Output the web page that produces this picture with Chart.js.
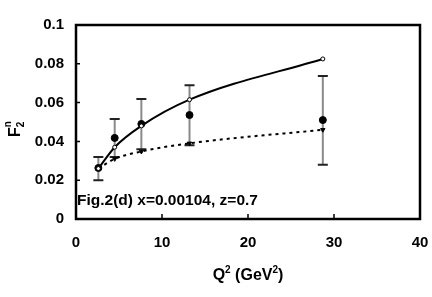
<!DOCTYPE html>
<html><head><meta charset="utf-8">
<script src="https://cdn.jsdelivr.net/npm/chart.js@4.4.0/dist/chart.umd.min.js"></script>
<style>html,body{margin:0;padding:0;background:#fff}#wrap{width:432px;height:297px}</style>
</head><body><div id="wrap"><canvas id="c" width="432" height="297"></canvas></div>
<script>
const q2 = [2.6, 4.5, 7.6, 13.2, 28.7];
const dataF2 = [0.0263, 0.0418, 0.049, 0.0536, 0.051];
const errHi = [0.032, 0.0515, 0.0618, 0.069, 0.0737];
const errLo = [0.020, 0.032, 0.036, 0.038, 0.028];
const theorySolid = [0.026, 0.037, 0.048, 0.0615, 0.0825];
const theoryDashed = [0.026, 0.031, 0.0348, 0.039, 0.046];
const xTicks = [0, 10, 20, 30, 40];
const yTicks = [0, 0.02, 0.04, 0.06, 0.08, 0.1];
const annotation = 'Fig.2(d) x=0.00104, z=0.7';

const FONT = '"Liberation Sans", Arial, sans-serif';

const overlay = {
  id: 'overlay',
  beforeDatasetsDraw(chart) {
    const {ctx, scales: {x, y}} = chart;
    ctx.save();
    for (let i = 0; i < q2.length; i++) {
      const px = x.getPixelForValue(q2[i]);
      const pt = y.getPixelForValue(errHi[i]);
      const pb = y.getPixelForValue(errLo[i]);
      ctx.strokeStyle = '#8a8a8a'; ctx.lineWidth = 2;
      ctx.beginPath(); ctx.moveTo(px, pt); ctx.lineTo(px, pb); ctx.stroke();
      ctx.strokeStyle = '#222'; ctx.lineWidth = 2;
      ctx.beginPath(); ctx.moveTo(px - 5, pt); ctx.lineTo(px + 5, pt);
      ctx.moveTo(px - 5, pb); ctx.lineTo(px + 5, pb); ctx.stroke();
    }
    ctx.restore();
  },
  afterDraw(chart) {
    const {ctx, chartArea: a, scales: {x, y}} = chart;
    ctx.save();
    ctx.strokeStyle = '#000';
    ctx.lineWidth = 1.5;
    ctx.beginPath();
    yTicks.forEach(v => { if (v > 0 && v < 0.1) { const py = y.getPixelForValue(v); ctx.moveTo(a.left, py); ctx.lineTo(a.left + 4, py); } });
    xTicks.forEach(v => { if (v > 0 && v < 40) { const px = x.getPixelForValue(v); ctx.moveTo(px, a.bottom); ctx.lineTo(px, a.bottom - 5); } });
    ctx.stroke();
    ctx.lineWidth = 2.5;
    ctx.strokeRect(a.left, a.top, a.right - a.left, a.bottom - a.top);
    ctx.fillStyle = '#000';
    ctx.font = 'bold 15.5px ' + FONT;
    ctx.textAlign = 'left'; ctx.textBaseline = 'alphabetic';
    ctx.fillText(annotation, a.left + 1, 205);
    // x title
    const parts = [['Q', 16, 0], ['2', 10, -7], [' (GeV', 16, 0], ['2', 10, -7], [')', 16, 0]];
    let w = 0;
    parts.forEach(p => { ctx.font = 'bold ' + p[1] + 'px ' + FONT; w += ctx.measureText(p[0]).width; });
    let cx = 248 - w / 2;
    parts.forEach(p => { ctx.font = 'bold ' + p[1] + 'px ' + FONT; ctx.fillText(p[0], cx, 280 + p[2]); cx += ctx.measureText(p[0]).width; });
    // y title
    ctx.translate(20, 137);
    ctx.rotate(-Math.PI / 2);
    ctx.font = 'bold 16px ' + FONT;
    ctx.fillText('F', 0, 0);
    const fw = ctx.measureText('F').width;
    ctx.font = 'bold 10px ' + FONT;
    ctx.fillText('2', fw, 4);
    ctx.fillText('n', fw, -9);
    ctx.restore();
  }
};

new Chart(document.getElementById('c'), {
  type: 'scatter',
  data: {
    datasets: [
      {
        label: 'solid',
        data: q2.map((v, i) => ({x: v, y: theorySolid[i]})),
        showLine: true, borderColor: '#000', borderWidth: 2,
        cubicInterpolationMode: 'monotone',
        pointStyle: 'circle', pointRadius: 2, pointBackgroundColor: '#fff', pointBorderColor: '#000', pointBorderWidth: 1
      },
      {
        label: 'dashed',
        data: q2.map((v, i) => ({x: v, y: theoryDashed[i]})),
        showLine: true, borderColor: '#000', borderWidth: 2, borderDash: [3, 4],
        cubicInterpolationMode: 'monotone',
        pointStyle: 'triangle', rotation: 180, pointRadius: 2.5, pointBackgroundColor: '#000', pointBorderColor: '#000', pointBorderWidth: 1
      },
      {
        label: 'data',
        data: q2.map((v, i) => ({x: v, y: dataF2[i]})),
        showLine: false,
        pointStyle: 'circle', pointRadius: 3.5, pointBackgroundColor: '#000', pointBorderColor: '#000', pointBorderWidth: 1
      }
    ]
  },
  options: {
    responsive: false, animation: false,
    layout: {padding: {top: 25, right: 12, left: 0, bottom: 0}},
    plugins: {legend: {display: false}, tooltip: {enabled: false}},
    scales: {
      x: {
        type: 'linear', min: 0, max: 40,
        afterBuildTicks: s => { s.ticks = xTicks.map(v => ({value: v})); },
        afterFit: s => { s.height = 78; s.paddingRight = 0; s.paddingLeft = 0; },
        grid: {display: false, drawTicks: false}, border: {display: false},
        ticks: {padding: 15, color: '#000', font: {family: FONT, size: 15, weight: 'bold'}}
      },
      y: {
        min: 0, max: 0.1,
        afterBuildTicks: s => { s.ticks = yTicks.map(v => ({value: v})); },
        afterFit: s => { s.width = 76; s.paddingTop = 0; s.paddingBottom = 0; },
        grid: {display: false, drawTicks: false}, border: {display: false},
        ticks: {padding: 12, color: '#000', font: {family: FONT, size: 15, weight: 'bold'},
          callback: v => String(Math.round(v * 100) / 100)}
      }
    }
  },
  plugins: [overlay]
});
</script></body></html>
